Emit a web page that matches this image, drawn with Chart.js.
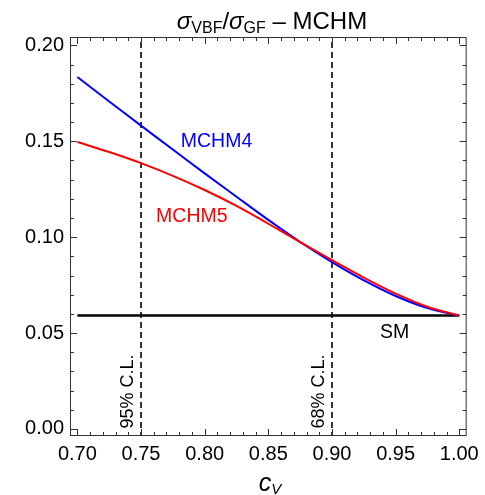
<!DOCTYPE html>
<html>
<head>
<meta charset="utf-8">
<script src="https://cdn.jsdelivr.net/npm/chart.js@4.4.1/dist/chart.umd.min.js"></script>
<style>
  html, body { margin: 0; padding: 0; background: #fff; }
  #wrap { width: 485px; height: 495px; }
</style>
</head>
<body>
<div id="wrap"><canvas id="ratioChart" width="485" height="495"></canvas></div>
<script>
// values
var cvValues = [0.70, 0.725, 0.75, 0.775, 0.80, 0.825, 0.85, 0.875, 0.90, 0.925, 0.95, 0.975, 1.00];
var mchm4Values = [0.1835, 0.1708, 0.1582, 0.1457, 0.1333, 0.1211, 0.1090, 0.0975, 0.0870, 0.0775, 0.0693, 0.0630, 0.0591];
var mchm5Values = [0.1496, 0.1444, 0.1386, 0.1320, 0.1246, 0.1163, 0.1070, 0.0974, 0.0880, 0.0789, 0.0706, 0.0637, 0.0591];
var smRange = [0.70, 1.00];
var smValue = 0.0591;
var clValues = [0.75, 0.90];
var clLabels = ['95% C.L.', '68% C.L.'];
var xTicks = [0.70, 0.75, 0.80, 0.85, 0.90, 0.95, 1.00];
var yTicks = [0.00, 0.05, 0.10, 0.15, 0.20];

var FONT = "'Liberation Sans', Arial, sans-serif";

function toPoints(xs, ys) {
    return xs.map(function (x, i) { return { x: x, y: ys[i] }; });
}

// frame with inward ticks on all four sides, like the original
var framePlugin = {
    id: 'frame',
    afterDraw: function (chart) {
        var ctx = chart.ctx, a = chart.chartArea;
        var xs = chart.scales.x, ys = chart.scales.y;
        ctx.save();
        ctx.strokeStyle = '#333';
        ctx.lineWidth = 1;
        ctx.strokeRect(a.left + 0.5, a.top + 0.5, a.right - a.left - 1, a.bottom - a.top - 1);
        ctx.beginPath();
        for (var k = 70; k <= 100; k++) {
            var px = Math.round(xs.getPixelForValue(k / 100)) + 0.5;
            var len = (k % 5 === 0) ? 7 : 4;
            ctx.moveTo(px, a.bottom); ctx.lineTo(px, a.bottom - len);
            ctx.moveTo(px, a.top); ctx.lineTo(px, a.top + len);
        }
        for (var j = 0; j <= 20; j++) {
            var py = Math.round(ys.getPixelForValue(j / 100)) + 0.5;
            var l2 = (j % 5 === 0) ? 7 : 4;
            ctx.moveTo(a.left, py); ctx.lineTo(a.left + l2, py);
            ctx.moveTo(a.right, py); ctx.lineTo(a.right - l2, py);
        }
        ctx.stroke();
        ctx.restore();
    }
};

function drawRich(ctx, parts, cx, baseline) {
    var total = 0;
    parts.forEach(function (p) { ctx.font = p.font; p.w = ctx.measureText(p.t).width; total += p.w; });
    var x = cx - total / 2;
    ctx.textAlign = 'left';
    ctx.textBaseline = 'alphabetic';
    parts.forEach(function (p) {
        ctx.font = p.font;
        ctx.fillText(p.t, x, baseline + (p.dy || 0));
        x += p.w;
    });
}

var textPlugin = {
    id: 'texts',
    afterDraw: function (chart) {
        var ctx = chart.ctx;
        var xs = chart.scales.x, ys = chart.scales.y;
        ctx.save();
        ctx.fillStyle = '#000';
        // title
        drawRich(ctx, [
            { t: 'σ', font: 'italic 24px ' + FONT },
            { t: 'VBF', font: '16px ' + FONT, dy: 4 },
            { t: '/', font: '24px ' + FONT },
            { t: 'σ', font: 'italic 24px ' + FONT },
            { t: 'GF', font: '16px ' + FONT, dy: 4 },
            { t: ' – MCHM', font: '24px ' + FONT }
        ], 272, 29);
        // x axis title
        drawRich(ctx, [
            { t: 'c', font: 'italic 25px ' + FONT },
            { t: 'V', font: 'italic 15px ' + FONT, dy: 3 }
        ], 270, 491);

        ctx.textAlign = 'center';
        ctx.textBaseline = 'middle';
        ctx.font = '19.5px ' + FONT;
        ctx.fillStyle = '#0000ff';
        ctx.fillText('MCHM4', xs.getPixelForValue(0.8093), ys.getPixelForValue(0.1499));
        ctx.fillStyle = '#ff0000';
        ctx.fillText('MCHM5', xs.getPixelForValue(0.7899), ys.getPixelForValue(0.1108));
        ctx.fillStyle = '#000';
        ctx.fillText('SM', xs.getPixelForValue(0.9493), ys.getPixelForValue(0.0500));

        ctx.font = '18px ' + FONT;
        clValues.forEach(function (v, i) {
            ctx.save();
            ctx.translate(xs.getPixelForValue(v) - 13, ys.getPixelForValue(0.0195));
            ctx.rotate(-Math.PI / 2);
            ctx.fillText(clLabels[i], 0, 0);
            ctx.restore();
        });
        ctx.restore();
    }
};

var datasets = [
    {
        label: 'MCHM5',
        data: toPoints(cvValues, mchm5Values),
        borderColor: '#ff0000',
        borderWidth: 2,
        tension: 0.4
    },
    {
        label: 'MCHM4',
        data: toPoints(cvValues, mchm4Values),
        borderColor: '#0000ff',
        borderWidth: 2,
        tension: 0.4
    },
    {
        label: 'SM',
        data: toPoints(smRange, [smValue, smValue]),
        borderColor: '#000',
        borderWidth: 2.5
    }
];
clValues.forEach(function (v) {
    datasets.push({
        label: 'CL ' + v,
        data: toPoints([v, v], [-0.01, 0.21]),
        borderColor: '#000',
        borderWidth: 1.6,
        borderDash: [6, 4]
    });
});
datasets.forEach(function (d) {
    d.showLine = true;
    d.pointRadius = 0;
    d.fill = false;
});

var ctx1 = document.getElementById('ratioChart').getContext('2d');
var ratioChart = new Chart(ctx1, {
    type: 'scatter',
    data: { datasets: datasets },
    plugins: [framePlugin, textPlugin],
    options: {
        responsive: false,
        animation: false,
        devicePixelRatio: 1,
        layout: { padding: { top: 37, right: 15, left: 0, bottom: 0 } },
        plugins: {
            legend: { display: false },
            tooltip: { enabled: false },
            title: { display: false }
        },
        scales: {
            x: {
                type: 'linear',
                min: 0.6942,
                max: 1.0058,
                grid: { display: false, drawTicks: false },
                border: { display: false },
                ticks: {
                    color: '#000',
                    font: { family: FONT, size: 20 },
                    padding: 6,
                    maxRotation: 0,
                    autoSkip: false,
                    callback: function (v) { return v.toFixed(2); }
                },
                afterBuildTicks: function (s) { s.ticks = xTicks.map(function (v) { return { value: v }; }); },
                afterFit: function (s) { s.height = 59; }
            },
            y: {
                type: 'linear',
                min: -0.0037,
                max: 0.2044,
                grid: { display: false, drawTicks: false },
                border: { display: false },
                ticks: {
                    color: '#000',
                    font: { family: FONT, size: 20 },
                    padding: 6,
                    autoSkip: false,
                    callback: function (v) { return v.toFixed(2); }
                },
                afterBuildTicks: function (s) { s.ticks = yTicks.map(function (v) { return { value: v }; }); },
                afterFit: function (s) { s.width = 70; }
            }
        }
    }
});
</script>
</body>
</html>
